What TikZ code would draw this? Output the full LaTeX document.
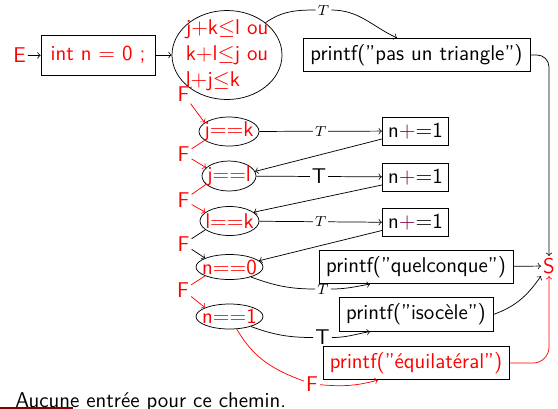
\documentclass[tikz,border=0pt,11pt]{standalone}
\usepackage{amssymb}
\usepackage{amsmath}
\usetikzlibrary{arrows.meta}
\usetikzlibrary{shapes.geometric}
\definecolor{plusred}{RGB}{128,0,64}

\begin{document}
\begin{tikzpicture}[font=\sffamily\fontsize{11.7}{14.2}\selectfont, >=to,
  box/.style={draw, rectangle, inner sep=0.3em},
  test/.style={draw, ellipse, inner sep=0pt},
  lbl/.style={inner sep=1pt}]

\useasboundingbox (0,0) rectangle (27.9em,-20.4em);

% Entree
\node[lbl, red] at (0.975em,-2.775em) (E) {E};
\node[box, text=red, minimum width=5.7em, minimum height=2em] at (4.9em,-2.75em) (init) {int n $=$ 0 ;};
\draw[->] (E) -- (init);

% Test triangle
\node[test, minimum width=5.5em, minimum height=4.45em,
  label={[text=red, align=left]center:j$+$k$\leq$l ou\\k$+$l$\leq$j ou\\l$+$j$\leq$k}] at (11.35em,-2.75em) (tri) {};
\draw[->] (init) -- (tri);

% Pas un triangle
\node[box, minimum width=11.35em, minimum height=1.6em] at (20.825em,-2.75em) (pas) {printf(\textquotedblright pas un triangle\textquotedblright)};
\node[lbl] at (16.175em,-0.5em) (t0) {\scriptsize $T$};
\draw[->] (tri.40) to[out=35,in=180] (t0) to[out=0,in=155] ([xshift=-0.975em]pas.north);

% Sortie
\node[lbl, red] at (27.45em,-13.3em) (S) {S};
\draw[->, rounded corners=0.6em] (pas.east) -| (S.north);

% j==k
\node[test, minimum width=3em, minimum height=1.45em, label={[text=red]center:j$==$k}] at (11.45em,-6.575em) (jk) {};
\node[box, minimum width=3.25em, minimum height=1.4em] at (20.775em,-6.55em) (inc1) {n\textcolor{plusred}{$+$}$=$1};
\draw[->] (jk) -- node[lbl, fill=white]{\scriptsize $T$} (inc1);
\node[lbl, red] at (9.175em,-4.7em) (f1) {F};
\draw[->, red] (tri) -- (f1) -- (jk.160);

% j==l
\node[test, minimum width=2.7em, minimum height=1.5em, label={[text=red]center:j$==$l}] at (11.45em,-8.8em) (jl) {};
\node[box, minimum width=3.25em, minimum height=1.4em] at (20.775em,-8.85em) (inc2) {n\textcolor{plusred}{$+$}$=$1};
\draw[->] (jl) -- node[lbl, fill=white]{T} (inc2);
\draw[->] ([yshift=-0.4em]inc1.west) -- (jl.10);
\node[lbl, red] at (9.175em,-7.7em) (f2) {F};
\draw[->, red] (jk.200) -- (f2) -- (jl.160);

% l==k
\node[test, minimum width=2.95em, minimum height=1.45em, label={[text=red]center:l$==$k}] at (11.475em,-11.05em) (lk) {};
\node[box, minimum width=3.25em, minimum height=1.4em] at (20.775em,-11.125em) (inc3) {n\textcolor{plusred}{$+$}$=$1};
\draw[->] (lk) -- node[lbl, fill=white]{\scriptsize $T$} (inc3);
\draw[->] ([yshift=-0.4em]inc2.west) -- (lk.20);
\node[lbl, red] at (9.175em,-10em) (f3) {F};
\draw[->, red] (jl.200) -- (f3) -- (lk.160);

% n==0
\node[test, minimum width=3.35em, minimum height=1.25em, label={[text=red]center:n$==$0}] at (11.475em,-13.35em) (n0) {};
\node[box, minimum width=9.7em, minimum height=1.6em] at (20.8em,-13.35em) (qq) {printf(\textquotedblright quelconque\textquotedblright)};
\draw[->] ([yshift=-0.4em]inc3.west) -- (n0.12);
\node[lbl, red] at (9.175em,-12.2em) (f4) {F};
\draw[->] (lk.200) -- (f4) -- (n0.160);
\node[lbl] at (16.15em,-14.45em) (t4) {\scriptsize $T$};
\draw[->] (n0.-25) to[out=-20,in=180] (t4) to[out=0,in=190] ([xshift=-2.3em]qq.south);
\draw[->] (qq) -- (S);

% n==1
\node[test, minimum width=3.35em, minimum height=1.25em, label={[text=red]center:n$==$1}] at (11.475em,-15.825em) (n1) {};
\node[box, minimum width=7.7em, minimum height=1.65em] at (20.8em,-15.725em) (iso) {printf(\textquotedblright isocèle\textquotedblright)};
\node[lbl, red] at (9.15em,-14.5em) (f5) {F};
\draw[->, red] (n0.200) -- (f5) -- (n1.160);
\node[lbl] at (16.125em,-16.875em) (t5) {T};
\draw[->] (n1.-25) to[out=-20,in=180] (t5) to[out=0,in=190] ([xshift=-2.3em]iso.south);
\draw[->] (iso.east) to[out=20,in=-125] (S.south west);

% Equilateral
\node[box, text=red, minimum width=9.3em, minimum height=1.6em] at (20.8em,-18.15em) (equi) {printf(\textquotedblright équilatéral\textquotedblright)};
\node[lbl, red] at (15.6em,-19.2em) (f6) {F};
\draw[->, red] (n1.-60) to[out=-60,in=160] (f6) to[out=-5,in=195] ([xshift=-1.9em]equi.south);
\draw[->, red, rounded corners=0.8em] (equi.east) -| (S.south);

% Bas de page
\node[anchor=base west, inner sep=0pt] at (0.75em,-20.35em) (msg) {Aucune entrée pour ce chemin.};
\draw[red!50!black, line width=1pt] (0,-20.38em) -- (3.65em,-20.38em);

\end{tikzpicture}
\end{document}
